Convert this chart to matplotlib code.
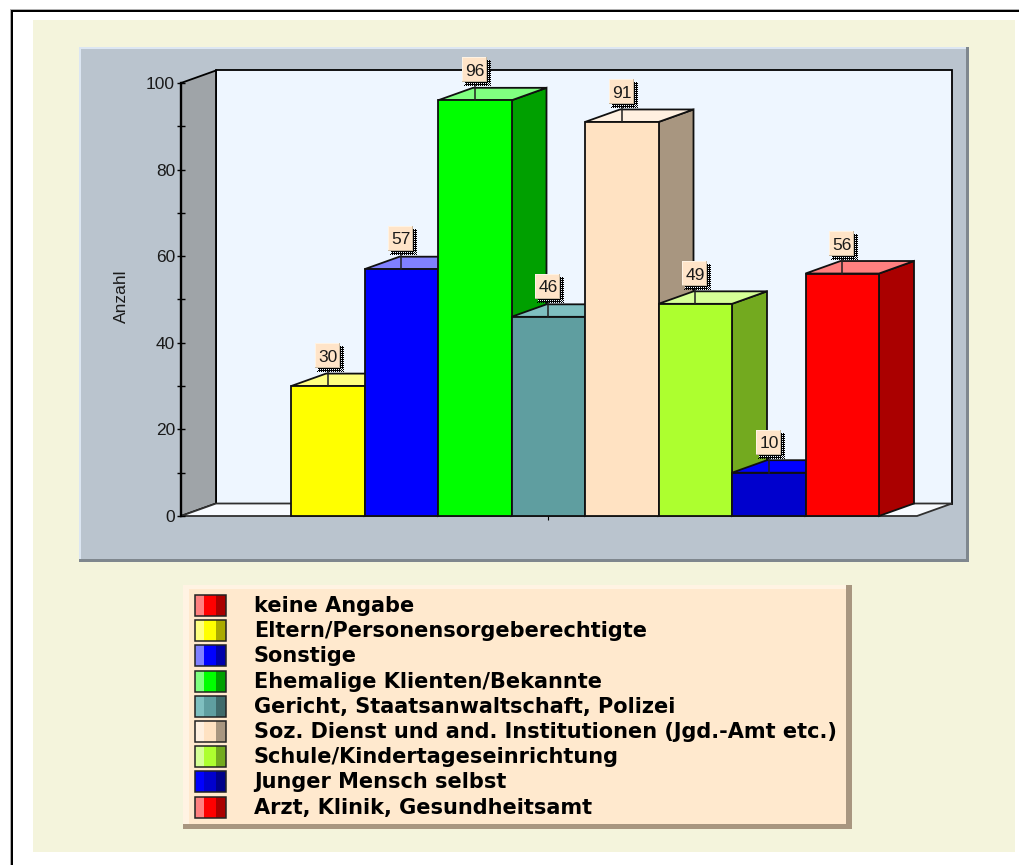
import matplotlib
matplotlib.use("Agg")
import matplotlib.pyplot as plt
from matplotlib.patches import Polygon, Rectangle
from matplotlib.lines import Line2D
from matplotlib.transforms import IdentityTransform

plt.rcParams["font.family"] = ["Liberation Sans", "DejaVu Sans"]

WIDTH, HEIGHT = 1019, 865

# Referral sources, in legend order (first entry has no cases)
sources = [
    "keine Angabe",
    "Eltern/Personensorgeberechtigte",
    "Sonstige",
    "Ehemalige Klienten/Bekannte",
    "Gericht, Staatsanwaltschaft, Polizei",
    "Soz. Dienst und and. Institutionen (Jgd.-Amt etc.)",
    "Schule/Kindertageseinrichtung",
    "Junger Mensch selbst",
    "Arzt, Klinik, Gesundheitsamt",
]
counts = [0, 30, 57, 96, 46, 91, 49, 10, 56]
front_colors = ["#FF0000", "#FFFF00", "#0000FF", "#00FF00", "#5F9EA0",
                "#FFE2C2", "#ADFF2F", "#0000CD", "#FF0000"]
top_colors = ["#FF8080", "#FFFF80", "#8080FF", "#80FF80", "#7FBFC0",
              "#FFF0E0", "#D6FF97", "#0000FF", "#FF8080"]
side_colors = ["#AA0000", "#AAAA00", "#0000AA", "#00A000", "#3F6A6B",
               "#A89680", "#73AA1F", "#000089", "#AA0000"]
y_ticks = [0, 20, 40, 60, 80, 100]
y_minor_ticks = [10, 30, 50, 70, 90]
y_label = "Anzahl"

fig = plt.figure(figsize=(WIDTH / 100, HEIGHT / 100), dpi=100, facecolor="white")

# Full-figure layer in pixel units for the page frame, panel and legend
page = fig.add_axes([0, 0, 1, 1], zorder=0)
page.set_xlim(0, WIDTH)
page.set_ylim(HEIGHT, 0)
page.axis("off")


def box(x0, y0, x1, y1, color, z=1):
    page.add_patch(Rectangle((x0, y0), x1 - x0, y1 - y0, facecolor=color,
                             edgecolor="none", zorder=z))


# Page frame: open on the right and at the bottom
box(10, 8.5, WIDTH, 9.5, "#B0B0B0")
box(10, 8.5, 11, HEIGHT, "#B0B0B0")
box(11, 9.5, WIDTH, 11.5, "#000000")
box(11, 9.5, 13, HEIGHT, "#000000")
box(33, 20, 1015, 852, "#F4F4DC")

# Chart panel with a bevelled edge
box(79, 47, 969, 562, "#7F878E", 2)
box(79, 47, 966, 559, "#DCE6F2", 2)
box(81, 49, 966, 559, "#BAC4CE", 2)

# Legend panel with a bevelled edge and drop shadow
box(183, 585, 852, 829, "#A89680", 2)
box(183, 585, 846, 824, "#FFF3E3", 2)
box(189, 589, 846, 824, "#FFE9CE", 2)

row_pitch = 25.2
for i, name in enumerate(sources):
    top = 595 + i * row_pitch
    bottom = top + 21
    box(195, top, 204, bottom, top_colors[i], 3)
    box(204, top, 216, bottom, front_colors[i], 3)
    box(216, top, 226, bottom, side_colors[i], 3)
    page.add_patch(Rectangle((195, top), 31, 21, facecolor="none",
                             edgecolor="#222222", lw=1.1, zorder=4))
    page.text(254, top + 11, name, fontsize=15, fontweight="bold",
              family=["DejaVu Sans"], color="#000000", va="center", ha="left", zorder=4)

# Bar plot area: the axes rectangle is the front plane of the 3D box
ax = fig.add_axes([181 / WIDTH, 1 - 516 / HEIGHT, 736 / WIDTH, 433 / HEIGHT], zorder=1)
ax.patch.set_visible(False)
ax.set_xlim(-1.4966, 8.517)
ax.set_ylim(0, 100)
for spine in ax.spines.values():
    spine.set_visible(False)

# Depth of the 3D projection, in data units
depth_x = 35 / 73.5
depth_y = 12.5 / 4.33
x_left, x_right = ax.get_xlim()
y_low, y_high = ax.get_ylim()


def face(points, color, z=2, edge="#101010", lw=1.3):
    ax.add_patch(Polygon(points, closed=True, facecolor=color, edgecolor=edge,
                         lw=lw, zorder=z, clip_on=False, joinstyle="miter"))


# Back wall, left wall and floor
face([(x_left + depth_x, y_low + depth_y), (x_right + depth_x, y_low + depth_y),
      (x_right + depth_x, y_high + depth_y), (x_left + depth_x, y_high + depth_y)],
     "#EEF6FF", 1, "#000000", 1.3)
face([(x_left, y_low), (x_left + depth_x, y_low + depth_y),
      (x_left + depth_x, y_high + depth_y), (x_left, y_high)], "#9FA4A8", 1, "#000000", 1.3)
face([(x_left, y_low), (x_right, y_low), (x_right + depth_x, y_low + depth_y),
      (x_left + depth_x, y_low + depth_y)], "#F8FBFF", 1, "#303030", 1.3)

# Bars are painted left to right so each one overlaps its neighbour's side
z = 3
for i, value in enumerate(counts):
    if value == 0:
        continue
    x0, x1 = i - 1, i
    face([(x1, 0), (x1 + depth_x, depth_y), (x1 + depth_x, value + depth_y), (x1, value)],
         side_colors[i], z)
    face([(x0, value), (x1, value), (x1 + depth_x, value + depth_y), (x0 + depth_x, value + depth_y)],
         top_colors[i], z)
    face([(x0, 0), (x1, 0), (x1, value), (x0, value)], front_colors[i], z)
    z += 1

# Value labels on stems, each with a notched dotted shadow
pixel = IdentityTransform()


def label_patch(x, y, w, h, color, z):
    ax.add_patch(Rectangle((x, y), w, h, facecolor=color, edgecolor="none",
                           transform=pixel, zorder=z, clip_on=False))


for i, value in enumerate(counts):
    if value == 0:
        continue
    cx, cy = ax.transData.transform((i - 0.5, value))
    cx = round(cx)
    cy = round(cy)
    bottom = cy + 18
    left = cx - 13
    ax.add_line(Line2D([cx, cx], [cy, bottom], color="#202020", lw=1.1,
                       transform=pixel, zorder=20, clip_on=False))
    # Solid band behind the box, then alternating notches along its outer edge
    label_patch(left + 3, bottom - 3, 25, 25, "#000000", 21)
    for step in range(0, 26, 2):
        label_patch(left + 28, bottom - 4 + step, 1, 1, "#000000", 21)
        label_patch(left + 2 + step, bottom - 4, 1, 1, "#000000", 21)
        label_patch(left + 26, bottom - 3 + step, 1, 1, "#EEF6FF", 21.5)
        label_patch(left + 3 + step, bottom - 2, 1, 1, "#EEF6FF", 21.5)
    label_patch(left, bottom, 25, 25, "#C8B8A0", 22)
    label_patch(left, bottom + 1, 24, 24, "#FFF3E3", 22)
    label_patch(left + 1, bottom + 1, 23, 23, "#FFE4C8", 22)
    ax.text(cx, bottom + 12.5, str(value), fontsize=12.5, color="#1A1A1A", ha="center",
            va="center_baseline", transform=pixel, zorder=23, clip_on=False)

# Axes: heavy front vertical axis with crossing ticks
ax.add_line(Line2D([x_left, x_left], [y_low, y_high], color="#000000", lw=1.7,
                   zorder=30, clip_on=False))
ax.set_yticks(y_ticks)
ax.set_yticks(y_minor_ticks, minor=True)
ax.tick_params(axis="y", which="both", direction="inout", length=5.5, width=1.0,
               labelsize=12.5, pad=1.5, labelcolor="#1A1A1A")
ax.set_xticks([3.5])
ax.set_xticklabels([""])
ax.tick_params(axis="x", direction="out", length=3, width=0.8)
ax.set_ylabel(y_label, fontsize=12.5, color="#1A1A1A")
ax.yaxis.set_label_coords((129 - 181) / 736, 1 - (296 - 83) / 433)

fig.savefig("out.png", dpi=100, facecolor="white")
